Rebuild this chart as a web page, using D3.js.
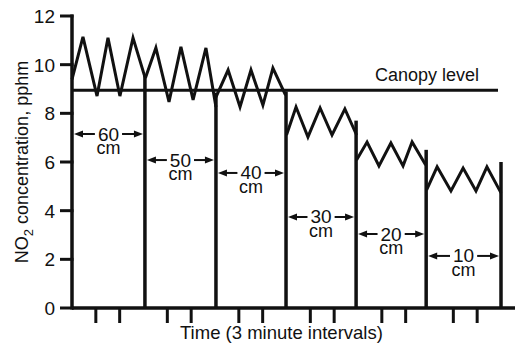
<html>
<head>
  <meta charset="utf-8" />
  <script src="https://cdnjs.cloudflare.com/ajax/libs/d3/7.8.5/d3.min.js"></script>
  <style>
    body { margin: 0; background: #fff; }
    text { font-family: "Liberation Sans", Arial, sans-serif; fill: #111; }
  </style>
</head>
<body>
  <svg></svg>
  <script>

  // chamber heights (cm), one per segment
  var segLabels = ["60", "50", "40", "30", "20", "10"]
  // segment edges, in 3 minute intervals
  var bounds = [0, 3.06, 6.04, 8.98, 11.92, 14.86, 18.0]
  // top of each divider line, pphm (first edge is the y axis)
  var boundTops = [12, 9.55, 8.85, 8.9, 7.7, 6.5, 6.0]
  // height where the "<- xx ->" arrow sits in each segment
  var labelLevels = [7.15, 6.08, 5.55, 3.74, 3.04, 2.14]
  var canopyLevel = 8.95

  // NO2 traces, [time, pphm]
  var seg60 = [[0, 9.4], [0.46, 11.14], [1.05, 8.71], [1.51, 11.1], [2.01, 8.71], [2.56, 11.1], [3.06, 9.49]]
  var seg50 = [[3.08, 9.45], [3.52, 10.69], [4.07, 8.47], [4.57, 10.73], [5.08, 8.55], [5.62, 10.69], [6.04, 8.26]]
  var seg40 = [[6.04, 8.67], [6.55, 9.78], [7.05, 8.26], [7.51, 9.78], [8.01, 8.34], [8.43, 9.86], [8.96, 8.75]]
  var seg30 = [[9.0, 7.11], [9.4, 8.26], [9.9, 7.03], [10.41, 8.22], [10.91, 7.11], [11.45, 8.18], [11.94, 7.11]]
  var seg20 = [[11.94, 6.08], [12.38, 6.82], [12.88, 5.84], [13.38, 6.78], [13.89, 5.84], [14.27, 6.82], [14.84, 5.88]]
  var seg10 = [[14.88, 4.85], [15.32, 5.8], [15.9, 4.81], [16.41, 5.75], [16.95, 4.81], [17.41, 5.8], [18.0, 4.73]]
  var traces = [seg60, seg50, seg40, seg30, seg20, seg10]

  var yTicks = [0, 2, 4, 6, 8, 10, 12]
  var xTicks = [1, 2, 4, 5, 7, 8, 10, 11, 13, 14, 16, 17]

  var svg = d3.select("svg").attr("width", 517).attr("height", 345)

  var xScale = d3.scaleLinear().domain([0, 18]).range([72, 501])
  var yScale = d3.scaleLinear().domain([0, 12]).range([308, 16])

  // y axis, drawn by hand to get the heavy look
  var yAx = svg.append("g")
  yAx.append("line")
    .attr("x1", xScale(0)).attr("x2", xScale(0))
    .attr("y1", yScale(0) + 1.5).attr("y2", yScale(12) - 1.5)
    .attr("stroke", "#111").attr("stroke-width", 3.5)
  yAx.selectAll(".yt").data(yTicks).enter().append("line")
    .attr("x1", 60).attr("x2", xScale(0) + 1.5)
    .attr("y1", d => yScale(d)).attr("y2", d => yScale(d))
    .attr("stroke", "#111").attr("stroke-width", 3)
  yAx.selectAll(".yl").data(yTicks).enter().append("text")
    .attr("x", 55).attr("y", d => yScale(d))
    .attr("dy", "0.36em")
    .attr("text-anchor", "end")
    .style("font-size", "19px")
    .text(d => d)

  // x axis
  svg.append("line")
    .attr("x1", xScale(0)).attr("x2", 515)
    .attr("y1", yScale(0)).attr("y2", yScale(0))
    .attr("stroke", "#111").attr("stroke-width", 3.5)
  svg.selectAll(".xt").data(xTicks).enter().append("line")
    .attr("x1", d => xScale(d)).attr("x2", d => xScale(d))
    .attr("y1", yScale(0)).attr("y2", yScale(0) + 15)
    .attr("stroke", "#111").attr("stroke-width", 3)

  // canopy line
  svg.append("line")
    .attr("x1", xScale(0)).attr("x2", 498)
    .attr("y1", yScale(canopyLevel)).attr("y2", yScale(canopyLevel))
    .attr("stroke", "#111").attr("stroke-width", 3)
  svg.append("text")
    .attr("x", 479).attr("y", yScale(canopyLevel) - 9)
    .attr("text-anchor", "end")
    .style("font-size", "18px")
    .text("Canopy level")

  // divider lines between chambers
  svg.selectAll(".div").data(bounds.slice(1)).enter().append("line")
    .attr("x1", d => xScale(d)).attr("x2", d => xScale(d))
    .attr("y1", yScale(0)).attr("y2", (d, i) => yScale(boundTops[i + 1]))
    .attr("stroke", "#111").attr("stroke-width", 3.5)

  // zigzag traces
  var line = d3.line().x(d => xScale(d[0])).y(d => yScale(d[1]))
  svg.selectAll(".trace").data(traces).enter().append("path")
    .attr("d", line)
    .attr("fill", "none")
    .attr("stroke", "#111")
    .attr("stroke-width", 3)
    .attr("stroke-linejoin", "miter")

  // "<- 60 ->  cm" labels, number and unit as one two-line text
  segLabels.forEach((lab, i) => {
    var x0 = xScale(bounds[i]) + 2
    var x1 = xScale(bounds[i + 1]) - 2
    var cx = (xScale(bounds[i]) + xScale(bounds[i + 1])) / 2
    var ay = yScale(labelLevels[i])
    var g = svg.append("g")
    var t = g.append("text")
      .attr("y", ay + 6.5)
      .attr("text-anchor", "middle")
    var num = t.append("tspan").attr("x", cx).style("font-size", "19px").text(lab)
    t.append("tspan").attr("x", cx).attr("dy", 13.5).style("font-size", "18px").text("cm")
    var w = num.node().getComputedTextLength()
    var tl = cx - w / 2 - 3, tr = cx + w / 2 + 3
    g.append("line").attr("x1", x0 + 6).attr("x2", tl).attr("y1", ay).attr("y2", ay)
      .attr("stroke", "#111").attr("stroke-width", 2)
    g.append("line").attr("x1", tr).attr("x2", x1 - 6).attr("y1", ay).attr("y2", ay)
      .attr("stroke", "#111").attr("stroke-width", 2)
    g.append("path")
      .attr("d", `M${x0},${ay} L${x0 + 9},${ay - 3.5} L${x0 + 9},${ay + 3.5} Z`)
      .attr("fill", "#111")
    g.append("path")
      .attr("d", `M${x1},${ay} L${x1 - 9},${ay - 3.5} L${x1 - 9},${ay + 3.5} Z`)
      .attr("fill", "#111")
  })

  // axis titles
  svg.append("text")
    .attr("x", 180).attr("y", 339)
    .style("font-size", "18.5px")
    .text("Time (3 minute intervals)")

  var yt = svg.append("text")
    .attr("transform", "translate(28,162) rotate(-90)")
    .attr("text-anchor", "middle")
    .style("font-size", "18px")
  yt.append("tspan").text("NO")
  yt.append("tspan").attr("dy", 5).style("font-size", "13px").text("2")
  yt.append("tspan").attr("dy", -5).text(" concentration, pphm")

  </script>
</body>
</html>
